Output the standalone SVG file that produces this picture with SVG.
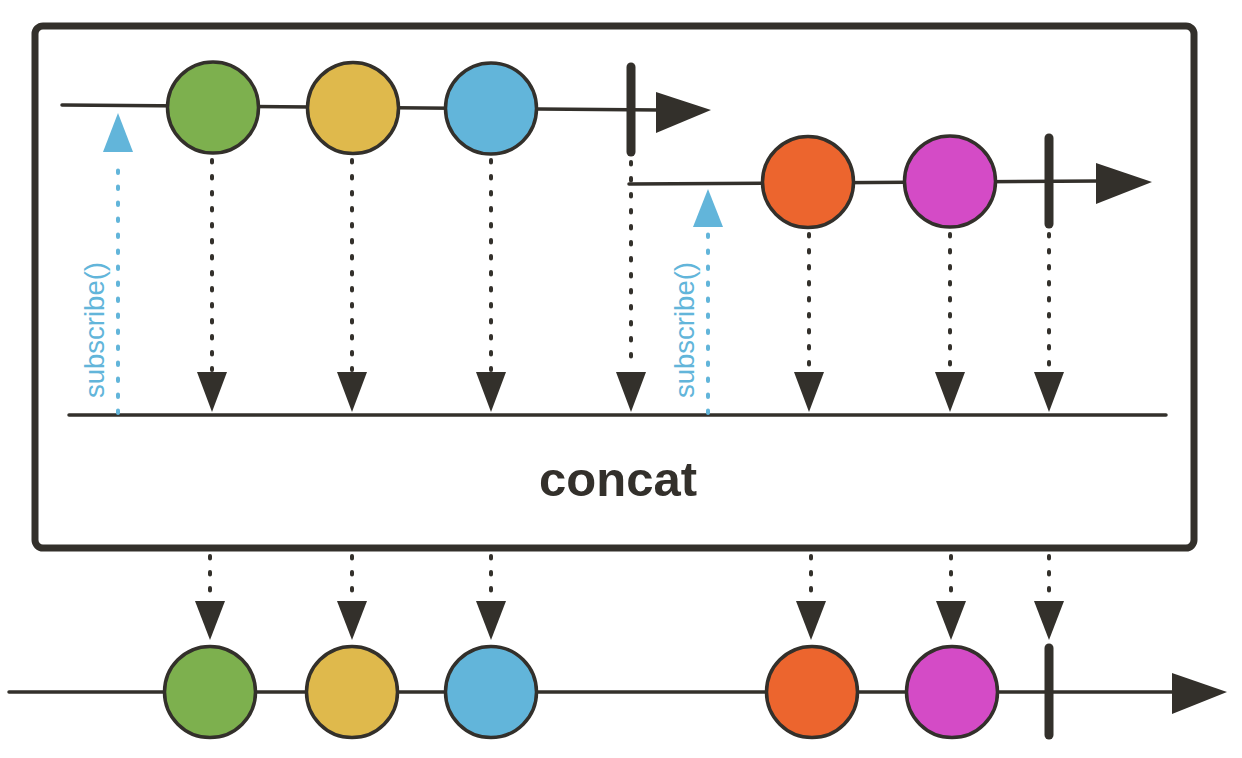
<svg xmlns="http://www.w3.org/2000/svg" width="1242" height="758" viewBox="0 0 1242 758">
<style>
.ln{stroke:#33302b;stroke-width:3.5;fill:none;stroke-linecap:round}
.dot{stroke:#33302b;stroke-width:4;fill:none;stroke-dasharray:2.5 13.5;stroke-linecap:round}
.bdot{stroke:#62b5da;stroke-width:4;fill:none;stroke-dasharray:2.5 13.5;stroke-linecap:round}
.hd{fill:#33302b}
.bh{fill:#62b5da}
.bar{stroke:#33302b;stroke-width:9;stroke-linecap:round}
.c{stroke:#33302b;stroke-width:3.5}
.sub{font-family:"Liberation Sans",Arial,sans-serif;font-size:27.5px;fill:#62b5da}
</style>
<rect x="35" y="26" width="1159" height="522" rx="8" fill="#fff" stroke="#33302b" stroke-width="7"/>
<g id="connectors">
<line class="ln" x1="62" y1="105" x2="660" y2="110"/>
<polygon class="hd" points="656,92 656,133 711,110"/>
<line class="ln" x1="629" y1="184" x2="1100" y2="181"/>
<polygon class="hd" points="1096,163 1096,204 1152,182"/>
<line class="ln" x1="69" y1="415" x2="1166" y2="415"/>
<line class="ln" x1="9" y1="692" x2="1176" y2="692"/>
<polygon class="hd" points="1172,673 1172,714 1227,692"/>
<line class="bdot" x1="118" y1="413" x2="118" y2="157"/>
<polygon class="bh" points="103,152 133,152 118,113"/>
<line class="bdot" x1="708" y1="413" x2="708" y2="232"/>
<polygon class="bh" points="693,227 723,227 708,189"/>
<g>
<line class="dot" x1="212" y1="160" x2="212" y2="370"/><polygon class="hd" points="197,372 227,372 212,412"/>
<line class="dot" x1="352" y1="160" x2="352" y2="370"/><polygon class="hd" points="337,372 367,372 352,412"/>
<line class="dot" x1="491" y1="160" x2="491" y2="370"/><polygon class="hd" points="476,372 506,372 491,412"/>
<line class="dot" x1="631" y1="162" x2="631" y2="370"/><polygon class="hd" points="616,372 646,372 631,412"/>
<line class="dot" x1="809" y1="234" x2="809" y2="370"/><polygon class="hd" points="794,372 824,372 809,412"/>
<line class="dot" x1="950" y1="234" x2="950" y2="370"/><polygon class="hd" points="935,372 965,372 950,412"/>
<line class="dot" x1="1049" y1="234" x2="1049" y2="370"/><polygon class="hd" points="1034,372 1064,372 1049,412"/>
</g>
<g>
<line class="dot" x1="210" y1="556" x2="210" y2="600"/><polygon class="hd" points="195,601 225,601 210,640"/>
<line class="dot" x1="352" y1="556" x2="352" y2="600"/><polygon class="hd" points="337,601 367,601 352,640"/>
<line class="dot" x1="491" y1="556" x2="491" y2="600"/><polygon class="hd" points="476,601 506,601 491,640"/>
<line class="dot" x1="811" y1="556" x2="811" y2="600"/><polygon class="hd" points="796,601 826,601 811,640"/>
<line class="dot" x1="951" y1="556" x2="951" y2="600"/><polygon class="hd" points="936,601 966,601 951,640"/>
<line class="dot" x1="1049" y1="556" x2="1049" y2="600"/><polygon class="hd" points="1034,601 1064,601 1049,640"/>
</g>
</g>
<g id="green1"><circle class="c" cx="213" cy="107.5" r="45.5" fill="#7db04e"/></g>
<g id="yellow1"><circle class="c" cx="353" cy="108" r="45.5" fill="#dfb94c"/></g>
<g id="blue1"><circle class="c" cx="491" cy="108.5" r="45.5" fill="#62b5da"/></g>
<g id="complete1"><line class="bar" x1="631" y1="67" x2="631" y2="152"/></g>
<g id="orange1"><circle class="c" cx="808" cy="182" r="45.5" fill="#ec652e"/></g>
<g id="magenta1"><circle class="c" cx="950" cy="181.5" r="45.5" fill="#d44bc6"/></g>
<g id="complete2"><line class="bar" x1="1049" y1="138" x2="1049" y2="224"/></g>
<g id="sub1"><text class="sub" transform="translate(104,398) rotate(-90)">subscribe()</text></g>
<g id="sub2"><text class="sub" transform="translate(694,398) rotate(-90)">subscribe()</text></g>
<g id="label"><text x="618" y="496" text-anchor="middle" font-family="'Liberation Sans',Arial,sans-serif" font-weight="bold" font-size="49" fill="#33302b">concat</text></g>
<g id="green2"><circle class="c" cx="210" cy="692" r="45.5" fill="#7db04e"/></g>
<g id="yellow2"><circle class="c" cx="352" cy="692" r="45.5" fill="#dfb94c"/></g>
<g id="blue2"><circle class="c" cx="491" cy="692" r="45.5" fill="#62b5da"/></g>
<g id="orange2"><circle class="c" cx="812" cy="692" r="45.5" fill="#ec652e"/></g>
<g id="magenta2"><circle class="c" cx="952" cy="692" r="45.5" fill="#d44bc6"/></g>
<g id="complete3"><line class="bar" x1="1049" y1="648" x2="1049" y2="735"/></g>
</svg>
